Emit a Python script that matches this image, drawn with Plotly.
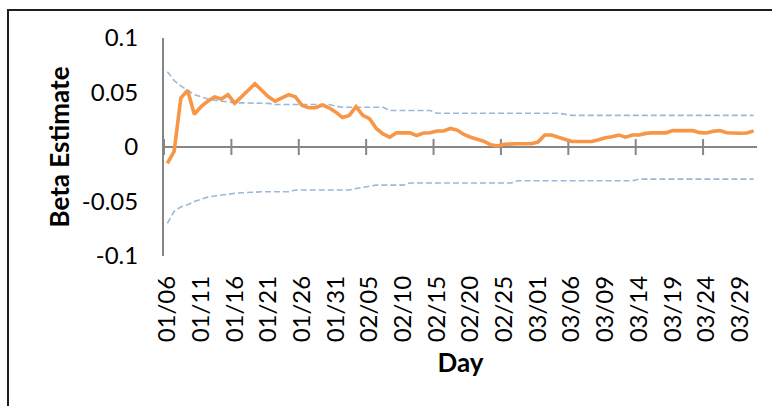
import plotly.graph_objects as go

# Daily beta estimate with its upper / lower confidence bounds
beta = [
    -0.015, -0.004, 0.045, 0.052, 0.030, 0.037, 0.042, 0.046, 0.044, 0.048,
    0.040, 0.046, 0.052, 0.058, 0.052, 0.046, 0.042, 0.045, 0.048, 0.046,
    0.038, 0.036, 0.036, 0.0385, 0.036, 0.032, 0.027, 0.029, 0.037, 0.029,
    0.026, 0.017, 0.012, 0.009, 0.013, 0.013, 0.013, 0.0105, 0.0128, 0.013,
    0.0147, 0.0147, 0.017, 0.0155, 0.0115, 0.009, 0.007, 0.0052, 0.002, 0.001,
    0.0025, 0.003, 0.003, 0.003, 0.003, 0.0045, 0.011, 0.011, 0.009, 0.0068,
    0.005, 0.005, 0.005, 0.005, 0.0066, 0.0085, 0.0094, 0.011, 0.009, 0.011,
    0.011, 0.0125, 0.013, 0.013, 0.013, 0.015, 0.015, 0.015, 0.015, 0.0132,
    0.0128, 0.0145, 0.015, 0.013, 0.0126, 0.0126, 0.0128, 0.0148,
]

upper = [
    0.069, 0.061, 0.056, 0.052, 0.048, 0.046, 0.044, 0.043, 0.042, 0.041,
    0.0405, 0.0405, 0.0405, 0.0405, 0.0405, 0.040, 0.039, 0.039, 0.039, 0.039,
    0.039, 0.039, 0.039, 0.039, 0.039, 0.0375, 0.0365, 0.0365, 0.0365, 0.0365,
    0.0365, 0.0365, 0.0365, 0.0335, 0.0335, 0.0335, 0.0335, 0.0335, 0.0335, 0.0335,
    0.031, 0.031, 0.031, 0.031, 0.031, 0.031, 0.031, 0.031, 0.031, 0.031,
    0.031, 0.031, 0.031, 0.031, 0.031, 0.031, 0.031, 0.031, 0.031, 0.030,
    0.029, 0.029, 0.029, 0.029, 0.029, 0.029, 0.029, 0.029, 0.029, 0.029,
    0.029, 0.029, 0.029, 0.029, 0.029, 0.029, 0.029, 0.029, 0.029, 0.029,
    0.029, 0.029, 0.029, 0.029, 0.029, 0.029, 0.029, 0.029,
]

lower = [
    -0.070, -0.059, -0.055, -0.053, -0.050, -0.048, -0.046, -0.045, -0.044, -0.043,
    -0.0425, -0.042, -0.042, -0.0415, -0.041, -0.041, -0.041, -0.041, -0.041, -0.0395,
    -0.0395, -0.0395, -0.0395, -0.0395, -0.0395, -0.0395, -0.0395, -0.0395, -0.038, -0.037,
    -0.036, -0.035, -0.035, -0.035, -0.035, -0.035, -0.033, -0.033, -0.033, -0.033,
    -0.033, -0.033, -0.033, -0.033, -0.033, -0.033, -0.033, -0.033, -0.033, -0.033,
    -0.033, -0.033, -0.031, -0.031, -0.031, -0.031, -0.031, -0.031, -0.031, -0.031,
    -0.031, -0.031, -0.031, -0.031, -0.031, -0.031, -0.031, -0.031, -0.031, -0.031,
    -0.0295, -0.0295, -0.0295, -0.0295, -0.0295, -0.0295, -0.0295, -0.0295, -0.0295, -0.0295,
    -0.0295, -0.0295, -0.0295, -0.0295, -0.0295, -0.0295, -0.0295, -0.0295,
]

# Day labels shown every fifth observation
day_labels = [
    "01/06", "01/11", "01/16", "01/21", "01/26", "01/31", "02/05", "02/10", "02/15",
    "02/20", "02/25", "03/01", "03/06", "03/09", "03/14", "03/19", "03/24", "03/29",
]
y_ticks = [-0.1, -0.05, 0, 0.05, 0.1]
y_tick_text = ["-0.1", "-0.05", "0", "0.05", "0.1"]

LABEL_STEP = 5
MARK_STEP = 10

n = len(beta)
x = list(range(n))
label_pos = [i * LABEL_STEP for i in range(len(day_labels))]
# category boundaries (tick marks sit between categories)
mark_pos = [k - 0.5 for k in range(0, n, MARK_STEP)]

FONT = "Lato, 'Open Sans', sans-serif"
AXIS_GREY = "#868686"
BAND_BLUE = "#9BB7DC"
ORANGE = "#F79646"

fig = go.Figure()
fig.add_trace(go.Scatter(x=x, y=upper, mode="lines", name="Upper",
                         line=dict(color=BAND_BLUE, width=1.6, dash="6px,3px")))
fig.add_trace(go.Scatter(x=x, y=lower, mode="lines", name="Lower",
                         line=dict(color=BAND_BLUE, width=1.6, dash="6px,3px")))
fig.add_trace(go.Scatter(x=x, y=beta, mode="lines", name="Beta",
                         line=dict(color=ORANGE, width=3.6)))

W, H = 772, 406
ML, MR, MT, MB = 164, 15, 38, 150
pw, ph = W - ML - MR, H - MT - MB

shapes = []
# cross-style tick marks on the zero axis
for m in mark_pos:
    shapes.append(dict(type="line", xref="x", yref="y", ysizemode="pixel", yanchor=0,
                       x0=m, x1=m, y0=-8, y1=8, layer="below",
                       line=dict(color=AXIS_GREY, width=2)))
# chart frame
shapes.append(dict(type="rect", xref="paper", yref="paper",
                   x0=(8 - ML) / pw, x1=(W + 10 - ML) / pw,
                   y0=-(H + 10 - MT - ph) / ph, y1=1 + (MT - 10) / ph,
                   line=dict(color="#1e1e1e", width=2), fillcolor="rgba(0,0,0,0)"))

fig.update_layout(
    width=W, height=H,
    margin=dict(l=ML, r=MR, t=MT, b=MB, pad=0),
    paper_bgcolor="white", plot_bgcolor="white",
    showlegend=False,
    font=dict(family=FONT, color="black"),
    shapes=shapes,
    xaxis=dict(
        range=[-0.5, n - 0.5], tickmode="array", tickvals=label_pos, ticktext=day_labels,
        tickangle=-90, tickfont=dict(size=24), ticks="", ticklabelstandoff=14,
        showgrid=False, zeroline=False, showline=False,
        title=dict(text="<b>Day</b>", font=dict(size=26), standoff=12),
    ),
    yaxis=dict(
        range=[-0.1, 0.1], tickmode="array", tickvals=y_ticks, ticktext=y_tick_text,
        tickfont=dict(size=24), ticks="", ticklabelstandoff=19,
        showgrid=False, showline=True, linecolor=AXIS_GREY, linewidth=2,
        zeroline=True, zerolinecolor=AXIS_GREY, zerolinewidth=2,
        title=dict(text="<b>Beta Estimate</b>", font=dict(size=26), standoff=5),
    ),
)

fig.write_html("out.html")
